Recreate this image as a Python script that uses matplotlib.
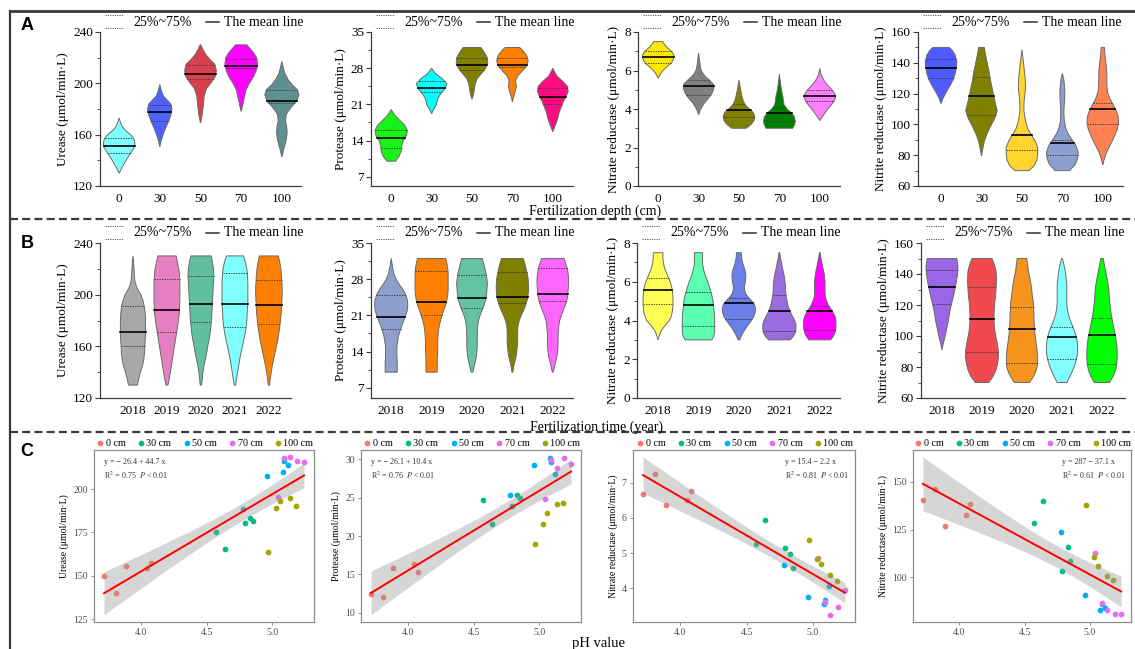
import numpy as np
import matplotlib.pyplot as plt
from matplotlib.lines import Line2D
from matplotlib.ticker import MultipleLocator

plt.rcParams['font.family'] = 'Liberation Serif'
plt.rcParams['mathtext.fontset'] = 'stix'

# ---------------- violin profiles: (level, half width in slot units) ----------------
depths = ['0', '30', '50', '70', '100']
years = ['2018', '2019', '2020', '2021', '2022']

# A: urease by depth
ure_d_lv = [[130, 135, 140, 145, 150, 153, 157, 160, 163, 166, 170, 173],
            [150.5, 155, 160, 165, 170, 175, 180, 184, 187, 190, 194, 199],
            [169, 175, 183, 190, 196, 200, 205, 210, 215, 219, 223, 227, 230],
            [178, 182, 188, 195, 200, 205, 210, 215, 220, 224, 227, 230],
            [142.5, 148, 155, 161, 166, 171, 176, 181, 186, 191, 195, 199, 203, 208, 213, 217]]
ure_d_hw = [[0, .08, .17, .27, .37, .39, .36, .28, .17, .08, .03, 0],
            [0, .03, .08, .14, .21, .27, .30, .27, .18, .09, .04, 0],
            [0, .04, .07, .09, .15, .25, .36, .39, .35, .22, .12, .05, .01],
            [0, .03, .07, .12, .20, .30, .37, .40, .38, .30, .22, .14],
            [0, .04, .10, .13, .12, .09, .11, .22, .36, .42, .38, .25, .15, .07, .03, 0]]
ure_d_q25 = [145.6, 170.8, 203.5, 212.0, 185.0]
ure_d_q75 = [157.3, 183.5, 214.6, 219.3, 194.6]
ure_d_mean = [151.4, 177.5, 207.6, 213.3, 186.3]

# A: protease by depth
pro_d_lv = [[10, 11, 12, 13, 14, 15, 16, 17, 18, 19, 20],
            [19.2, 20, 21, 22, 23, 24, 25, 26, 27, 28],
            [22, 23, 24, 25, 26, 27, 28, 29, 30, 31, 32],
            [21.5, 22.5, 23.5, 24.5, 25.5, 26.5, 27.5, 28.5, 29.5, 30.5, 31.5, 32],
            [15.7, 16.5, 17.5, 18.5, 19.5, 20.5, 21.5, 22.5, 23.5, 24.5, 25.5, 26.5, 27.5, 28]]
pro_d_hw = [[.11, .20, .25, .26, .30, .38, .40, .33, .20, .08, 0],
            [0, .05, .12, .15, .22, .33, .38, .26, .09, 0],
            [0, .04, .06, .08, .13, .24, .34, .39, .38, .31, .22],
            [0, .03, .07, .10, .08, .13, .25, .36, .39, .35, .25, .18],
            [0, .04, .09, .13, .16, .21, .26, .33, .38, .36, .24, .10, .03, 0]]
pro_d_q25 = [12.5, 23.4, 27.6, 28.2, 21.0]
pro_d_q75 = [16.1, 25.5, 29.9, 30.0, 24.25]
pro_d_mean = [14.5, 24.2, 28.7, 28.7, 22.45]

# A: nitrate reductase by depth
nar_d_lv = [[5.6, 5.8, 6.0, 6.2, 6.4, 6.6, 6.8, 7.0, 7.2, 7.4, 7.5],
            [3.7, 3.9, 4.1, 4.3, 4.5, 4.7, 4.9, 5.1, 5.3, 5.5, 5.7, 5.9, 6.1, 6.4, 6.9],
            [3.0, 3.2, 3.4, 3.6, 3.8, 4.0, 4.2, 4.4, 4.6, 4.8, 5.0, 5.5],
            [3.0, 3.2, 3.4, 3.6, 3.8, 4.0, 4.2, 4.4, 4.6, 4.8, 5.0, 5.3, 5.8],
            [3.4, 3.6, 3.8, 4.0, 4.2, 4.4, 4.6, 4.8, 5.0, 5.2, 5.4, 5.6, 5.8, 6.1]]
nar_d_hw = [[0, .05, .12, .22, .33, .38, .39, .33, .22, .14, .11],
            [0, .03, .08, .14, .22, .30, .35, .38, .36, .27, .16, .09, .05, .03, 0],
            [.18, .30, .37, .39, .36, .26, .16, .11, .08, .06, .04, 0],
            [.33, .38, .39, .37, .30, .19, .12, .10, .09, .07, .05, .03, 0],
            [0, .06, .13, .20, .28, .35, .39, .37, .30, .21, .13, .07, .03, 0]]
nar_d_q25 = [6.38, 4.75, 3.56, 3.38, 4.39]
nar_d_q75 = [7.0, 5.5, 4.28, 4.1, 5.0]
nar_d_mean = [6.7, 5.18, 3.94, 3.8, 4.68]

# A: nitrite reductase by depth
nir_d_lv = [[113.5, 117, 121, 125, 129, 133, 137, 141, 145, 148, 150],
            [79.5, 84, 89, 94, 99, 104, 109, 114, 119, 124, 129, 134, 139, 144, 150],
            [70, 73, 77, 81, 85, 89, 93, 97, 101, 105, 109, 113, 117, 121, 125, 130, 135, 140, 148.5],
            [70, 74, 78, 82, 86, 90, 94, 98, 102, 106, 110, 114, 118, 122, 126, 130, 133],
            [73.6, 77, 81, 85, 89, 93, 97, 101, 105, 109, 113, 117, 121, 125, 129, 133, 137, 141, 146, 150]]
nir_d_hw = [[0, .05, .13, .22, .30, .35, .38, .39, .35, .28, .20],
            [0, .03, .07, .14, .23, .33, .39, .34, .30, .26, .22, .19, .15, .11, .07],
            [.17, .30, .37, .39, .39, .33, .24, .15, .10, .07, .05, .05, .06, .08, .09, .08, .06, .04, 0],
            [.18, .32, .38, .39, .34, .24, .14, .08, .05, .04, .04, .05, .06, .06, .05, .03, 0],
            [0, .03, .08, .15, .23, .30, .36, .39, .38, .33, .25, .17, .12, .10, .10, .10, .09, .07, .05, .04]]
nir_d_q25 = [130.4, 106.0, 83.1, 80.0, 100.0]
nir_d_q75 = [142.7, 130.8, 93.5, 89.8, 114.0]
nir_d_mean = [136.9, 118.5, 93.0, 88.2, 110.3]

# B: profiles by year on shared levels
ure_y_levels = list(range(130, 231, 5))
ure_y_hw = [[.13, .17, .22, .28, .32, .34, .35, .36, .37, .37, .37, .36, .34, .30, .23, .12, .06, .04, .03, .02, 0],
            [.03, .07, .10, .13, .16, .19, .22, .25, .28, .31, .34, .36, .37, .38, .38, .38, .38, .37, .35, .31, .27],
            [.02, .04, .06, .09, .13, .17, .20, .24, .27, .29, .31, .32, .33, .34, .35, .36, .37, .38, .37, .34, .30],
            [.02, .05, .08, .11, .14, .18, .22, .26, .30, .33, .35, .36, .37, .38, .38, .38, .38, .37, .35, .31, .25],
            [.02, .04, .07, .10, .14, .18, .22, .26, .29, .32, .34, .36, .37, .38, .39, .39, .38, .37, .35, .32, .28]]
ure_y_q25 = [160.0, 171.0, 178.6, 175.0, 177.3]
ure_y_q75 = [191.0, 212.0, 214.5, 216.5, 211.4]
ure_y_mean = [170.9, 188.4, 192.8, 192.8, 191.8]

pro_y_levels = list(range(10, 33))
pro_y_hw = [[.15, .15, .15, .14, .14, .14, .16, .18, .22, .26, .31, .36, .40, .41, .40, .36, .29, .20, .12, .07, .04, .02, 0],
            [.14, .14, .14, .14, .15, .15, .15, .16, .17, .19, .22, .26, .30, .35, .38, .40, .41, .41, .41, .41, .40, .38, .35],
            [.02, .05, .08, .11, .12, .13, .13, .13, .13, .14, .16, .20, .25, .30, .34, .36, .37, .38, .37, .35, .32, .29, .25],
            [.01, .03, .06, .09, .11, .12, .13, .13, .13, .14, .17, .22, .28, .33, .37, .39, .40, .40, .39, .37, .34, .31, .27],
            [.01, .04, .07, .10, .12, .13, .13, .13, .14, .15, .17, .21, .26, .31, .35, .37, .38, .39, .39, .38, .36, .32, .28]]
pro_y_q25 = [18.4, 21.1, 22.5, 23.4, 23.7]
pro_y_q75 = [24.9, 29.6, 28.8, 29.4, 30.1]
pro_y_mean = [20.6, 23.55, 24.3, 24.5, 25.2]

nar_y_levels = [3.0, 3.2, 3.4, 3.6, 3.8, 4.0, 4.2, 4.4, 4.6, 4.8, 5.0, 5.2,
                5.4, 5.6, 5.8, 6.0, 6.2, 6.4, 6.6, 6.8, 7.0, 7.2, 7.5]
nar_y_hw = [[0, .03, .06, .12, .20, .28, .32, .35, .36, .37, .37, .37, .36, .35, .33, .30, .26, .22, .18, .15, .13, .12, .12],
            [.33, .38, .40, .40, .40, .40, .40, .39, .38, .37, .36, .34, .32, .29, .26, .23, .19, .16, .13, .11, .10, .10, .10],
            [.02, .06, .11, .17, .24, .31, .37, .40, .41, .39, .32, .23, .16, .14, .14, .16, .17, .17, .15, .12, .09, .07, .06],
            [.27, .35, .40, .41, .41, .38, .33, .28, .24, .21, .19, .17, .16, .15, .15, .14, .13, .11, .09, .07, .05, .03, .01],
            [.27, .34, .38, .40, .40, .40, .38, .33, .27, .21, .17, .14, .13, .13, .13, .13, .12, .11, .09, .07, .05, .03, .01]]
nar_y_q25 = [4.85, 3.73, 4.08, 3.44, 3.49]
nar_y_q75 = [6.2, 5.45, 5.16, 5.33, 4.75]
nar_y_mean = [5.6, 4.82, 4.9, 4.51, 4.47]

nir_y_levels = list(range(70, 151, 4))
nir_2018_levels = [91, 95, 100, 105, 110, 115, 120, 125, 130, 135, 140, 145, 150]
nir_y_hw = [[0, .03, .08, .12, .16, .19, .23, .28, .32, .36, .39, .40, .37],
            [.17, .28, .35, .39, .41, .41, .39, .36, .33, .31, .30, .30, .31, .32, .34, .35, .36, .36, .35, .31, .25],
            [.19, .29, .36, .39, .39, .38, .36, .34, .32, .31, .30, .30, .29, .28, .26, .24, .22, .19, .16, .14, .12],
            [.12, .20, .27, .33, .37, .39, .39, .37, .33, .27, .21, .16, .13, .12, .12, .12, .12, .10, .08, .05, .01],
            [.19, .28, .34, .37, .38, .38, .37, .35, .32, .29, .26, .23, .21, .19, .18, .17, .15, .12, .09, .06, .03]]
nir_y_q25 = [120.7, 90.0, 82.6, 85.4, 82.2]
nir_y_q75 = [142.4, 131.6, 118.5, 105.8, 111.6]
nir_y_mean = [131.8, 111.2, 104.5, 99.4, 100.9]

# violin fills
ure_d_col = ['#80FFFF', '#4F62FF', '#D9404F', '#FF00FF', '#5F8F8F']
pro_d_col = ['#19F219', '#00FFFF', '#808000', '#FF8000', '#FF0A80']
nar_d_col = ['#FFE600', '#808080', '#808000', '#007F00', '#FF80FF']
nir_d_col = ['#4D5BFF', '#808000', '#FFD52E', '#8C9FD0', '#FF8050']
ure_y_col = ['#A8A8A8', '#E680C0', '#5FBF9F', '#80FFFF', '#FF8000']
pro_y_col = ['#8DA0CB', '#FF8000', '#66C2A5', '#808000', '#FF66FF']
nar_y_col = ['#FFFF55', '#5CFFB0', '#6A80E8', '#9B6BE0', '#FF00FF']
nir_y_col = ['#9966E6', '#F04A50', '#F7941D', '#80FFFF', '#00FF00']

# ---------------- pH regressions ----------------
depth_names = ['0 cm', '30 cm', '50 cm', '70 cm', '100 cm']
depth_colors = ['#F8766D', '#00BF7D', '#00B0F6', '#E76BF3', '#A3A500']
ph = [[3.72, 3.81, 3.89, 4.05, 4.08],
      [4.57, 4.64, 4.79, 4.83, 4.85],
      [4.78, 4.96, 5.08, 5.09, 5.12],
      [5.04, 5.09, 5.13, 5.19, 5.24],
      [4.97, 5.03, 5.06, 5.13, 5.18]]
urease = [[150.0, 139.8, 155.4, 154.4, 157.4],
          [175.4, 165.4, 180.2, 183.4, 181.7],
          [188.6, 207.3, 209.6, 216.3, 213.9],
          [195.4, 218.1, 218.5, 216.3, 215.6],
          [163.4, 189.2, 192.9, 195.0, 190.2]]
protease = [[12.4, 12.0, 15.8, 16.4, 15.3],
            [24.7, 21.6, 23.9, 25.4, 25.0],
            [25.3, 29.2, 30.2, 29.7, 28.1],
            [24.8, 29.9, 28.9, 30.2, 29.4],
            [19.0, 21.5, 23.0, 24.2, 24.3]]
nitrate = [[6.69, 7.25, 6.36, 6.50, 6.76],
           [5.25, 5.94, 5.13, 4.96, 4.57],
           [4.67, 3.74, 3.54, 3.66, 4.07],
           [4.85, 3.62, 3.25, 3.46, 3.96],
           [5.38, 4.83, 4.70, 4.39, 4.21]]
nitrite = [[140.5, 146.5, 126.7, 132.6, 138.5],
           [128.5, 140.0, 103.5, 115.8, 108.7],
           [123.8, 90.6, 82.8, 86.0, 83.7],
           [112.9, 86.8, 82.8, 80.7, 80.9],
           [137.9, 110.9, 105.7, 100.7, 98.6]]
fit_coef = [(-26.4, 44.7), (-26.1, 10.4), (15.4, -2.2), (287.0, -37.1)]
fit_text = [('y = \u2212 26.4 + 44.7 x', '0.75'), ('y = \u2212 26.1 + 10.4 x', '0.76'),
            ('y = 15.4 \u2212 2.2 x', '0.81'), ('y = 287 \u2212 37.1 x', '0.61')]

W, H = 1135, 649
fig = plt.figure(figsize=(W / 100, H / 100), dpi=100)


def px_axes(l, t, r, b):
    return fig.add_axes([l / W, 1 - b / H, (r - l) / W, (b - t) / H])


def violin_axes(box, levels, widths, q25, q75, means, colors, names, xlim, ylim, ystep, ylabel):
    ax = px_axes(*box)
    for i in range(5):
        lv = np.asarray(levels[i], float)
        hw = np.asarray(widths[i], float)
        x0 = i + 1
        ax.fill(np.r_[x0 - hw, (x0 + hw)[::-1]], np.r_[lv, lv[::-1]],
                fc=colors[i], ec='#6a6a6a', lw=0.7, zorder=2)
        for v in (q25[i], q75[i]):
            w = np.interp(v, lv, hw)
            ax.plot([x0 - w, x0 + w], [v, v], color='#3a3a3a', lw=0.7,
                    ls=(0, (1.3, 1.3)), zorder=3)
        w = np.interp(means[i], lv, hw)
        ax.plot([x0 - w, x0 + w], [means[i]] * 2, color='black', lw=1.2, zorder=3)
    ax.set_xlim(xlim)
    ax.set_ylim(ylim)
    ax.yaxis.set_major_locator(MultipleLocator(ystep))
    ax.yaxis.set_minor_locator(MultipleLocator(ystep / 2))
    ax.set_xticks(range(1, 6), names)
    ax.spines[['top', 'right']].set_visible(False)
    for s in ('left', 'bottom'):
        ax.spines[s].set_color('#3c3c3c')
        ax.spines[s].set_linewidth(0.9)
    ax.tick_params(axis='y', which='major', length=3.5, width=0.8, pad=1.5,
                   labelsize=9.5, color='#3c3c3c')
    ax.tick_params(axis='y', which='minor', length=2, width=0.6, color='#3c3c3c')
    ax.tick_params(axis='x', length=0, pad=5, labelsize=9.5)
    ax.set_ylabel(ylabel, fontsize=9.5, labelpad=3)

    # "25%~75%" / "The mean line" key above the panel
    l, t = box[0], box[1]
    for dy in (-17, -4):
        fig.add_artist(Line2D([(l + 5) / W, (l + 23) / W], [1 - (t + dy) / H] * 2,
                              color='#555555', lw=0.7, ls=(0, (1.2, 1.2))))
    fig.text((l + 33) / W, 1 - (t - 10) / H, '25%~75%', fontsize=10, va='center')
    fig.add_artist(Line2D([(l + 106) / W, (l + 119) / W], [1 - (t - 10) / H] * 2,
                          color='#333333', lw=1.1))
    fig.text((l + 124) / W, 1 - (t - 10) / H, 'The mean line', fontsize=10, va='center')
    return ax


def scatter_axes(box, ys, coef, texts, ylim, yticks, ylabel, tx):
    ax = px_axes(*box)
    for xs, vs, c, name in zip(ph, ys, depth_colors, depth_names):
        ax.scatter(xs, vs, s=17, color=c, lw=0, label=name, zorder=2)
    x = np.concatenate([np.asarray(v, float) for v in ph])
    y = np.concatenate([np.asarray(v, float) for v in ys])
    a, b = coef
    n = len(x)
    s = np.sqrt(np.sum((y - (a + b * x)) ** 2) / (n - 2))
    xx = np.linspace(x.min(), x.max(), 100)
    se = s * np.sqrt(1 / n + (xx - x.mean()) ** 2 / np.sum((x - x.mean()) ** 2))
    fit = a + b * xx
    ax.fill_between(xx, fit - 2.069 * se, fit + 2.069 * se, color='#999999',
                    alpha=0.4, lw=0, zorder=3)
    ax.plot(xx, fit, color='red', lw=1.4, zorder=4)
    ax.set_xlim(3.644, 5.316)
    ax.set_ylim(ylim)
    ax.set_xticks([4.0, 4.5, 5.0])
    ax.set_yticks(yticks)
    for s_ in ax.spines.values():
        s_.set_color('#8c8c8c')
        s_.set_linewidth(0.9)
    ax.tick_params(length=2.5, width=0.7, color='#8c8c8c', labelcolor='#4d4d4d',
                   labelsize=7, pad=2)
    ax.set_ylabel(ylabel, fontsize=7, labelpad=3)
    ax.text(tx, 0.93, texts[0], transform=ax.transAxes, fontsize=5.8,
            color='#333333', va='center')
    ax.text(tx, 0.855, 'R$^{2}$ = ' + texts[1] + '  $P$ < 0.01', transform=ax.transAxes,
            fontsize=5.8, color='#333333', va='center')
    ax.legend(loc='lower center', bbox_to_anchor=(0.5, 1.0), ncol=5, frameon=False,
              fontsize=7.3, handletextpad=0.0, columnspacing=0.95, handlelength=1.1,
              borderaxespad=0.1, borderpad=0.1, scatterpoints=1)
    return ax


lab_u = 'Urease (\u03bcmol/min\u00b7L)'
lab_p = 'Protease (\u03bcmol/min\u00b7L)'
lab_na = 'Nitrate reductase (\u03bcmol/min\u00b7L)'
lab_ni = 'Nitrite reductase (\u03bcmol/min\u00b7L)'

# row A: fertilization depth
violin_axes((100, 32, 301, 186), ure_d_lv, ure_d_hw, ure_d_q25, ure_d_q75, ure_d_mean,
            ure_d_col, depths, (0.53, 5.47), (120, 240), 40, lab_u)
violin_axes((371, 32, 573, 186), pro_d_lv, pro_d_hw, pro_d_q25, pro_d_q75, pro_d_mean,
            pro_d_col, depths, (0.5, 5.5), (5.2, 35), 7, lab_p)
violin_axes((638, 32, 840, 186), nar_d_lv, nar_d_hw, nar_d_q25, nar_d_q75, nar_d_mean,
            nar_d_col, depths, (0.5, 5.5), (0, 8), 2, lab_na)
violin_axes((918, 32, 1123, 186), nir_d_lv, nir_d_hw, nir_d_q25, nir_d_q75, nir_d_mean,
            nir_d_col, depths, (0.43, 5.5), (60, 160), 20, lab_ni)

# row B: fertilization time
violin_axes((100, 243, 291, 398), [ure_y_levels] * 5, ure_y_hw, ure_y_q25, ure_y_q75,
            ure_y_mean, ure_y_col, years, (0.03, 5.65), (120, 240), 40, lab_u)
violin_axes((371, 243, 573, 398), [pro_y_levels] * 5, pro_y_hw, pro_y_q25, pro_y_q75,
            pro_y_mean, pro_y_col, years, (0.5, 5.5), (5.0, 35), 7, lab_p)
violin_axes((637, 243, 840, 398), [nar_y_levels] * 5, nar_y_hw, nar_y_q25, nar_y_q75,
            nar_y_mean, nar_y_col, years, (0.48, 5.5), (0, 8), 2, lab_na)
violin_axes((921, 243, 1125, 398), [nir_2018_levels] + [nir_y_levels] * 4, nir_y_hw,
            nir_y_q25, nir_y_q75, nir_y_mean, nir_y_col, years, (0.475, 5.575),
            (60, 160), 20, lab_ni)

# row C: activity against soil pH
scatter_axes((94, 450, 314, 622), urease, fit_coef[0], fit_text[0], (123.3, 222.5),
             [125, 150, 175, 200], lab_u, 0.045)
scatter_axes((361, 450, 581, 622), protease, fit_coef[1], fit_text[1], (8.8, 31.2),
             [10, 15, 20, 25, 30], lab_p, 0.045)
scatter_axes((633, 450, 855, 622), nitrate, fit_coef[2], fit_text[2], (3.04, 7.93),
             [4, 5, 6, 7], lab_na, 0.685)
scatter_axes((913, 450, 1131, 622), nitrite, fit_coef[3], fit_text[3], (76.6, 166.7),
             [100, 125, 150], lab_ni, 0.685)

# shared x labels
fig.text(595 / W, 1 - 211 / H, 'Fertilization depth (cm)', fontsize=10, ha='center', va='center')
fig.text(597 / W, 1 - 427 / H, 'Fertilization time (year)', fontsize=10, ha='center', va='center')
fig.text(598 / W, 1 - 644 / H, 'pH value', fontsize=10.5, ha='center', va='center')

# panel letters
for letter, y in (('A', 26), ('B', 244), ('C', 452)):
    fig.text(27 / W, 1 - y / H, letter, fontfamily='Liberation Sans', fontweight='bold',
             fontsize=13, ha='center', va='center')

# outer frame and row separators
fig.add_artist(Line2D([10 / W, 1], [1 - 11 / H] * 2, color='#3a3a3a', lw=2))
fig.add_artist(Line2D([10 / W] * 2, [0, 1 - 11 / H], color='#3a3a3a', lw=1.6))
for y in (219, 432):
    fig.add_artist(Line2D([10 / W, 1], [1 - y / H] * 2, color='#3a3a3a', lw=1.6,
                          ls=(0, (3.6, 1.9))))

fig.savefig('out.png', dpi=100)
